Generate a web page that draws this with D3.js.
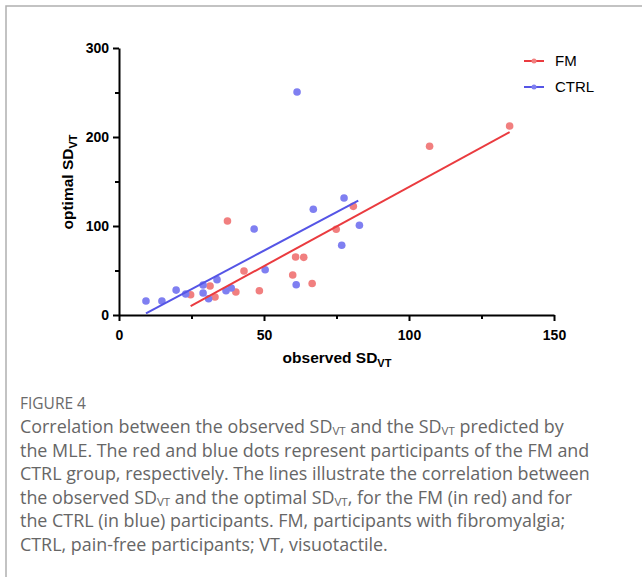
<!DOCTYPE html>
<html><head><meta charset="utf-8">
<script src="https://cdn.jsdelivr.net/npm/d3@7"></script>
<style>body{margin:0;background:#fff}svg{display:block}</style>
</head><body>
<script>
// ---- data ----
const fmX   = [24.7,31.4,33.1,37.4,40.3,43.1,48.4,59.9,60.9,63.7,66.6,74.9,80.8,107.1,134.7];
const fmY   = [22.8,32.6,20.2,105.6,25.8,49.4,27.3,44.9,65.2,64.8,35.4,96.3,122.1,189.6,212.4];
const ctrlX = [9.3,14.8,19.7,23.0,29.0,29.0,30.9,33.8,36.9,38.7,46.6,50.4,61.4,61.1,67.0,77.6,76.8,82.9];
const ctrlY = [15.7,15.7,28.0,23.6,33.7,24.7,18.3,39.7,27.3,30.3,96.6,50.9,250.6,34.0,118.8,131.5,78.3,100.8];
const fmLine   = [[24.7,10.0],[134.7,205.6]];
const ctrlLine = [[9.3,1.9],[82.5,128.5]];
const xTicks = [0,50,100,150];
const xMinor = [25,75,125];
const yTicks = [0,100,200,300];
const yMinor = [50,150,250];
const seriesNames = ["FM","CTRL"];
const captionTitle = "FIGURE 4";
const captionLines = [
  "Correlation between the observed SD_{VT} and the SD_{VT} predicted by",
  "the MLE. The red and blue dots represent participants of the FM and",
  "CTRL group, respectively. The lines illustrate the correlation between",
  "the observed SD_{VT} and the optimal SD_{VT}, for the FM (in red) and for",
  "the CTRL (in blue) participants. FM, participants with fibromyalgia;",
  "CTRL, pain-free participants; VT, visuotactile."
];

const W = 642, H = 577;
const svg = d3.select("body").append("svg").attr("width", W).attr("height", H);

// frame
svg.append("path").attr("d", `M6,${H} L6,6 L${W},6`).attr("fill","none")
  .attr("stroke","#b0b0b0").attr("stroke-width",1.5);

const x = d3.scaleLinear().domain([0,150]).range([119,554]);
const y = d3.scaleLinear().domain([0,300]).range([315,48]);

const fontAx = "'Liberation Sans', Arial, sans-serif";

function styleAxis(g){
  g.select(".domain").attr("stroke","#000").attr("stroke-width",2);
  g.selectAll(".tick line").attr("stroke","#000").attr("stroke-width",2);
  g.selectAll(".tick text").attr("font-family",fontAx).attr("font-weight","bold")
    .attr("font-size",14).attr("fill","#000");
}
// minor ticks
svg.append("g").attr("transform","translate(0,315)")
  .call(d3.axisBottom(x).tickValues(xMinor).tickSize(4).tickFormat(""))
  .call(g=>{g.select(".domain").remove(); g.selectAll(".tick line").attr("stroke","#000").attr("stroke-width",2);});
svg.append("g").attr("transform","translate(119,0)")
  .call(d3.axisLeft(y).tickValues(yMinor).tickSize(4).tickFormat(""))
  .call(g=>{g.select(".domain").remove(); g.selectAll(".tick line").attr("stroke","#000").attr("stroke-width",2);});
// major
svg.append("g").attr("transform","translate(0,315)")
  .call(d3.axisBottom(x).tickValues(xTicks).tickSize(6).tickSizeOuter(0).tickPadding(9))
  .call(styleAxis);
svg.append("g").attr("transform","translate(119,0)")
  .call(d3.axisLeft(y).tickValues(yTicks).tickSize(6).tickSizeOuter(0).tickPadding(4))
  .call(styleAxis);

// axis titles
const xl = svg.append("text").attr("x",337).attr("y",363).attr("text-anchor","middle")
  .attr("font-family",fontAx).attr("font-weight","bold").attr("font-size",15.5);
xl.append("tspan").text("observed SD");
xl.append("tspan").text("VT").attr("font-size",11).attr("dy",4);

const yl = svg.append("text").attr("transform","translate(73,182) rotate(-90)").attr("text-anchor","middle")
  .attr("font-family",fontAx).attr("font-weight","bold").attr("font-size",15.5);
yl.append("tspan").text("optimal SD");
yl.append("tspan").text("VT").attr("font-size",11).attr("dy",4);

const colors = {FM:{pt:"#f17f7f",ln:"#ea3b3f"}, CTRL:{pt:"#7f7ff1",ln:"#5555e6"}};
const series = [
  {name:seriesNames[0], xs:fmX, ys:fmY, line:fmLine},
  {name:seriesNames[1], xs:ctrlX, ys:ctrlY, line:ctrlLine}
];
const lineGen = d3.line().x(d=>x(d[0])).y(d=>y(d[1]));
series.forEach(s=>{
  svg.append("g").selectAll("circle").data(s.xs.map((v,i)=>[v,s.ys[i]])).join("circle")
    .attr("cx",d=>x(d[0])).attr("cy",d=>y(d[1])).attr("r",3.8).attr("fill",colors[s.name].pt);
});
series.forEach(s=>{
  svg.append("path").attr("d",lineGen(s.line)).attr("fill","none")
    .attr("stroke",colors[s.name].ln).attr("stroke-width",2);
});

// legend
series.forEach((s,i)=>{
  const ly = 61 + i*26;
  svg.append("line").attr("x1",524).attr("x2",544).attr("y1",ly).attr("y2",ly)
    .attr("stroke",colors[s.name].ln).attr("stroke-width",2);
  svg.append("circle").attr("cx",534).attr("cy",ly).attr("r",2.5).attr("fill",colors[s.name].pt);
  svg.append("text").attr("x",555).attr("y",ly+5).text(s.name)
    .attr("font-family",fontAx).attr("font-size",15).attr("fill","#000");
});

// caption
const capFont = "'Open Sans', 'Noto Sans', sans-serif";
svg.append("text").attr("x",20).attr("y",409).text(captionTitle)
  .attr("font-family",capFont).attr("font-size",15.5).attr("fill","#6a6a6a");
captionLines.forEach((ln,i)=>{
  const t = svg.append("text").attr("x",20).attr("y",433 + i*23.6)
    .attr("font-family",capFont).attr("font-size",17.9).attr("fill","#666");
  const parts = ln.split(/(_\{[^}]*\})/).filter(p=>p.length);
  let inSub=false;
  parts.forEach(p=>{
    if(p.startsWith("_{")){
      t.append("tspan").text(p.slice(2,-1)).attr("font-size",11.5).attr("dy",2); inSub=true;
    } else {
      const ts = t.append("tspan").text(p);
      if(inSub){ ts.attr("dy",-2); inSub=false; }
    }
  });
});
</script>
</body></html>
